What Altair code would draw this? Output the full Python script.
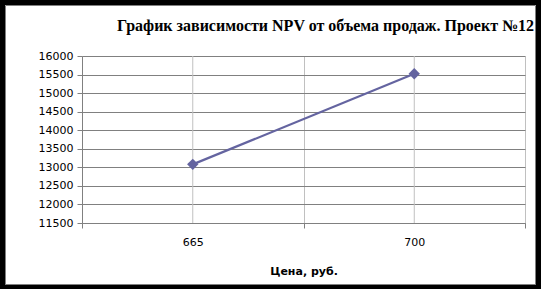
import altair as alt
import pandas as pd

prices = ["665", "700"]
npv = [13080, 15520]
y_ticks = [11500, 12000, 12500, 13000, 13500, 14000, 14500, 15000, 15500, 16000]

title_text = "График зависимости NPV от объема продаж. Проект №12"
x_title = "Цена, руб."

df = pd.DataFrame({"price": prices, "npv": npv})

W, H = 443, 167
LEFT, TOP = 82, 56

x_scale = alt.Scale(paddingInner=0, paddingOuter=0)

x_enc = alt.X(
    "price:N",
    sort=prices,
    scale=x_scale,
    axis=alt.Axis(
        title=x_title,
        labelAngle=0,
        tickBand="extent",
        grid=True,
        gridColor="#c0c0c0",
        domainColor="#808080",
        tickColor="#808080",
        tickSize=5,
        labelPadding=8,
        labelFont="DejaVu Sans",
        labelFontSize=11,
        labelColor="#000000",
        titleFont="DejaVu Sans",
        titleFontSize=11,
        titleFontWeight="bold",
        titleColor="#000000",
        titlePadding=18,
    ),
)

y_enc = alt.Y(
    "npv:Q",
    scale=alt.Scale(domain=[11500, 16000], nice=False, zero=False),
    axis=alt.Axis(
        title=None,
        values=y_ticks,
        format="d",
        grid=True,
        gridColor="#808080",
        domainColor="#808080",
        tickColor="#808080",
        tickSize=5,
        labelPadding=4,
        labelFont="DejaVu Sans",
        labelFontSize=11,
        labelColor="#000000",
    ),
)

one = alt.Data(values=[{"a": 1}])

title_mark = alt.Chart(one).mark_text(
    font="Liberation Serif", fontSize=16, fontWeight="bold", color="#000000",
    align="left", baseline="alphabetic",
).encode(
    x=alt.value(117 - LEFT), y=alt.value(31 - TOP), text=alt.value(title_text),
)

outer = alt.Chart(one).mark_rect(fill=None, stroke="black", strokeWidth=10).encode(
    x=alt.value(0 - LEFT), x2=alt.value(541 - LEFT),
    y=alt.value(0 - TOP), y2=alt.value(289.5 - TOP),
)
inner = alt.Chart(one).mark_rect(fill=None, stroke="#808080", strokeWidth=1).encode(
    x=alt.value(5.5 - LEFT), x2=alt.value(535.5 - LEFT),
    y=alt.value(5.5 - TOP), y2=alt.value(284.5 - TOP),
)

center_grid = alt.Chart(df).mark_rule(color="#c0c0c0", strokeWidth=1).encode(
    x=alt.X("price:N", sort=prices, scale=x_scale),
)

line = alt.Chart(df).mark_line(color="#6464a0", strokeWidth=2.2).encode(x=x_enc, y=y_enc)
pts = alt.Chart(df).mark_point(
    shape="diamond", filled=True, color="#6464a0", size=130, opacity=1
).encode(x=x_enc, y=y_enc)

chart = alt.layer(line, center_grid, pts, title_mark, outer, inner).properties(
    width=W,
    height=H,
    padding={"left": LEFT, "top": TOP, "right": 541 - LEFT - W, "bottom": 289 - TOP - H},
    autosize=alt.AutoSizeParams(type="none"),
    background="white",
).configure_view(stroke=None)

chart.save("out.html", embed_options={"renderer": "svg", "actions": False})
